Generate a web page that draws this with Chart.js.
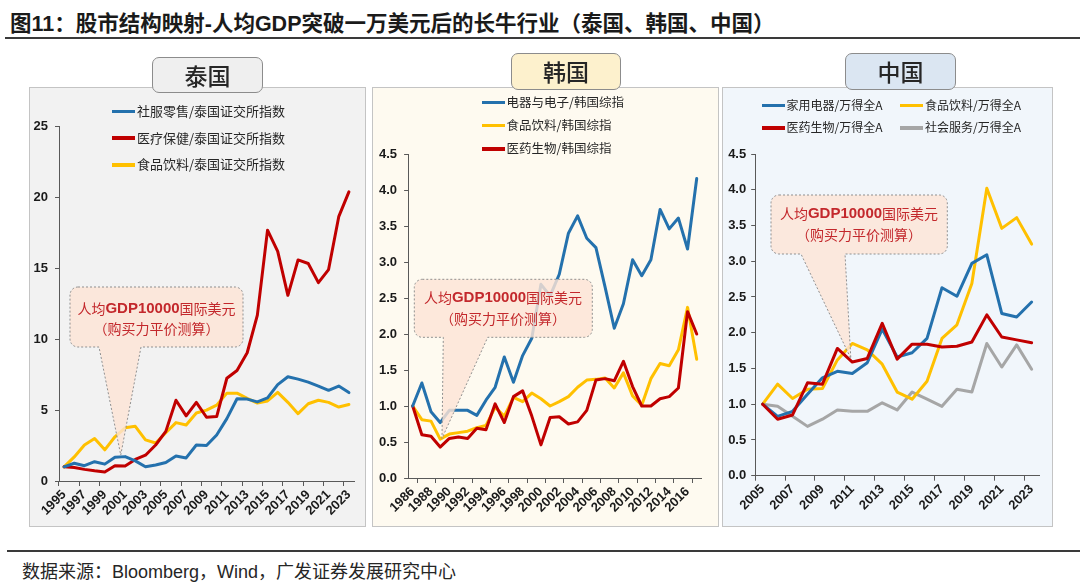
<!DOCTYPE html>
<html>
<head>
<meta charset="utf-8">
<script src="https://cdn.jsdelivr.net/npm/chart.js@4.4.1/dist/chart.umd.min.js"></script>
<style>
  body { margin: 0; background: #fff; font-family: "Liberation Sans", Arial, "Noto Sans CJK SC", sans-serif; }
  #page { position: relative; width: 1080px; height: 585px; overflow: hidden; }
  .title { position: absolute; left: 10px; top: 6px; font-size: 21.5px; font-weight: bold; color: #1a1a1a; white-space: nowrap; }
  .rule { position: absolute; left: 5px; right: 0; height: 2px; background: #3a3a3a; }
  .foot { position: absolute; left: 22px; top: 557px; font-size: 18px; color: #262626; white-space: nowrap; }
  .panel { position: absolute; top: 87px; height: 440px; border: 1px solid #c4c4c4; box-sizing: border-box; }
  canvas.c { position: absolute; top: 87px; }
  .tab { position: absolute; height: 37px; border: 1px solid #8c8c8c; border-radius: 7px; box-sizing: border-box;
         text-align: center; font-family: "Noto Sans CJK SC"; font-size: 23px; line-height: 34px; font-weight: 500; color: #262626; }
  .leg { position: absolute; white-space: nowrap; font-family: "Noto Sans CJK SC", sans-serif; color: #262626; }
  .leg i { display: inline-block; width: 23px; height: 3.5px; vertical-align: middle; margin-right: 2px; position: relative; top: -1px; }
</style>
</head>
<body>
<div id="page">
  <div class="title">图11：股市结构映射-人均GDP突破一万美元后的长牛行业（泰国、韩国、中国）</div>
  <div class="rule" style="top:37px"></div>

  <div class="panel" style="left:29px;width:337px;background:#f2f2f2"></div>
  <div class="panel" style="left:372px;width:347px;background:#fefaf0"></div>
  <div class="panel" style="left:722px;width:331px;background:#f1f6fb"></div>

  <canvas class="c" id="thai" width="336" height="440" style="left:29px"></canvas>
  <canvas class="c" id="korea" width="346" height="440" style="left:372px"></canvas>
  <canvas class="c" id="china" width="330" height="440" style="left:722px"></canvas>

  <div class="tab" style="left:152px;top:57px;width:111px;height:36px;background:#efefef">泰国</div>
  <div class="tab" style="left:511px;top:53px;width:110px;background:#fdf1cd">韩国</div>
  <div class="tab" style="left:845px;top:53px;width:111px;background:#dbe6f2">中国</div>

  <div id="legends"></div>

  <div class="rule" style="top:550px;left:7px;height:1.5px"></div>
  <div class="foot">数据来源：Bloomberg，Wind，广发证券发展研究中心</div>
</div>

<script>
// --- 数据 ---
const thaiYears = [];
for (let y = 1995; y <= 2023; y++) thaiYears.push(String(y));
const thaiRetail = [1.0, 1.25, 1.08, 1.36, 1.19, 1.68, 1.72, 1.42, 1.0, 1.13, 1.3, 1.76, 1.63, 2.54, 2.5, 3.25, 4.4, 5.8, 5.78, 5.58, 5.86, 6.8, 7.36, 7.19, 6.98, 6.7, 6.4, 6.7, 6.24];
const thaiHealth = [1.0, 0.95, 0.82, 0.72, 0.64, 1.08, 1.06, 1.52, 1.82, 2.54, 3.5, 5.7, 4.6, 5.55, 4.5, 4.55, 7.25, 7.8, 9.05, 11.7, 17.7, 16.2, 13.1, 15.6, 15.35, 14.0, 14.92, 18.65, 20.4];
const thaiFood = [1.0, 1.7, 2.54, 3.0, 2.2, 3.12, 3.75, 3.86, 2.9, 2.68, 3.4, 4.12, 3.95, 4.8, 5.0, 5.35, 6.2, 6.2, 5.83, 5.5, 5.65, 6.25, 5.55, 4.75, 5.45, 5.7, 5.55, 5.22, 5.4];
const thaiLabels = ['社服零售/泰国证交所指数', '医疗保健/泰国证交所指数', '食品饮料/泰国证交所指数'];

const koreaYears = [];
for (let y = 1986; y <= 2017; y++) koreaYears.push(String(y));
const koreaElec = [1.0, 1.32, 0.92, 0.77, 0.94, 0.94, 0.94, 0.87, 1.08, 1.26, 1.68, 1.33, 1.7, 1.94, 2.69, 2.53, 2.83, 3.4, 3.64, 3.33, 3.2, 2.65, 2.08, 2.42, 3.03, 2.81, 3.03, 3.73, 3.46, 3.61, 3.18, 4.16];
const koreaFood = [1.0, 0.81, 0.79, 0.54, 0.61, 0.63, 0.65, 0.7, 0.73, 0.98, 0.86, 1.12, 1.06, 1.18, 1.1, 1.0, 1.06, 1.13, 1.26, 1.36, 1.37, 1.39, 1.25, 1.46, 1.14, 1.01, 1.38, 1.59, 1.56, 1.78, 2.37, 1.65];
const koreaPharma = [1.0, 0.6, 0.58, 0.43, 0.55, 0.57, 0.55, 0.69, 0.67, 1.03, 0.77, 1.13, 1.21, 0.86, 0.46, 0.84, 0.85, 0.75, 0.78, 0.94, 1.36, 1.38, 1.35, 1.62, 1.27, 1.0, 1.0, 1.1, 1.13, 1.25, 2.31, 2.0];
const koreaLabels = ['电器与电子/韩国综指', '食品饮料/韩国综指', '医药生物/韩国综指'];

const chinaYears = [];
for (let y = 2005; y <= 2023; y++) chinaYears.push(String(y));
const chinaAppl = [1.0, 0.83, 0.9, 1.14, 1.37, 1.46, 1.43, 1.58, 2.05, 1.66, 1.72, 1.92, 2.63, 2.51, 2.97, 3.09, 2.27, 2.22, 2.43];
const chinaFood = [1.0, 1.28, 1.08, 1.21, 1.22, 1.62, 1.85, 1.76, 1.56, 1.17, 1.07, 1.32, 1.92, 2.11, 2.69, 4.02, 3.46, 3.61, 3.24];
const chinaPharma = [1.0, 0.79, 0.85, 1.3, 1.28, 1.78, 1.59, 1.64, 2.13, 1.63, 1.84, 1.84, 1.8, 1.81, 1.87, 2.25, 1.94, 1.9, 1.86];
const chinaService = [1.0, 0.97, 0.83, 0.69, 0.79, 0.92, 0.9, 0.9, 1.02, 0.92, 1.17, 1.07, 0.97, 1.21, 1.17, 1.85, 1.52, 1.83, 1.49];
const chinaLabels = ['家用电器/万得全A', '食品饮料/万得全A', '医药生物/万得全A', '社会服务/万得全A'];

const calloutLine1 = [['人均', false], ['GDP10000', true], ['国际美元', false]];
const calloutLine2 = '（购买力平价测算）';

const BLUE = '#2471ad', RED = '#c00000', YELLOW = '#ffc000', GRAY = '#a6a6a6';
const AXIS = '#595959';

// --- 标注框插件 ---
const calloutPlugin = {
  id: 'callout',
  afterDatasetsDraw(chart, args, o) {
    if (!o.box) return;
    const { ctx } = chart;
    const xs = chart.scales.x, ys = chart.scales.y;
    const [l, t, r, b] = o.box;
    const rad = 8;
    const tx = xs.getPixelForValue(o.tip[0]);
    const ty = ys.getPixelForValue(o.tip[1]);
    ctx.save();
    ctx.beginPath();
    ctx.moveTo(l + rad, t);
    ctx.lineTo(r - rad, t);
    ctx.arcTo(r, t, r, t + rad, rad);
    ctx.lineTo(r, b - rad);
    ctx.arcTo(r, b, r - rad, b, rad);
    ctx.lineTo(o.base[1], b);
    ctx.lineTo(tx, ty);
    ctx.lineTo(o.base[0], b);
    ctx.lineTo(l + rad, b);
    ctx.arcTo(l, b, l, b - rad, rad);
    ctx.lineTo(l, t + rad);
    ctx.arcTo(l, t, l + rad, t, rad);
    ctx.closePath();
    ctx.fillStyle = 'rgba(252,228,214,0.82)';
    ctx.fill();
    ctx.setLineDash([2, 2]);
    ctx.strokeStyle = '#8f8f8f';
    ctx.lineWidth = 1;
    ctx.stroke();
    ctx.setLineDash([]);

    // 文字
    ctx.fillStyle = '#c3282c';
    ctx.textBaseline = 'middle';
    ctx.textAlign = 'left';
    const cjk = '14px "Noto Sans CJK SC"';
    const lat = 'bold 15px "Liberation Sans", Arial';
    let w = 0;
    calloutLine1.forEach(([s, bold]) => { ctx.font = bold ? lat : cjk; w += ctx.measureText(s).width; });
    let x = o.text[0] - w / 2;
    calloutLine1.forEach(([s, bold]) => {
      ctx.font = bold ? lat : cjk;
      ctx.fillText(s, x, o.text[1]);
      x += ctx.measureText(s).width;
    });
    ctx.font = cjk;
    ctx.textAlign = 'center';
    ctx.fillText(calloutLine2, o.text[0], o.text[2]);
    ctx.restore();
  }
};

// --- 图表 ---
function makeChart(id, years, series, yOpts, geo) {
  const tickFont = { family: '"Liberation Sans", Arial', size: 13, weight: 'bold' };
  return new Chart(document.getElementById(id), {
    type: 'line',
    data: {
      labels: years,
      datasets: series.map(s => ({
        label: s.label, data: s.data, borderColor: s.color, backgroundColor: s.color,
        borderWidth: 3, pointRadius: 0, tension: 0, borderJoinStyle: 'round', borderCapStyle: 'round',
        order: s.order
      }))
    },
    options: {
      responsive: false,
      animation: false,
      events: [],
      layout: { padding: { top: geo.top, right: geo.right, bottom: 0, left: 0 } },
      plugins: {
        legend: { display: false },
        tooltip: { enabled: false },
        callout: geo.callout
      },
      scales: {
        x: {
          type: 'category',
          offset: true,
          grid: {
            offset: true, drawOnChartArea: false, drawTicks: true, tickLength: 5,
            color: c => (c.type === 'tick' && c.index % 2 === geo.parity) ? AXIS : 'rgba(0,0,0,0)'
          },
          border: { color: AXIS, width: 1 },
          ticks: {
            autoSkip: false, maxRotation: 45, minRotation: 45, padding: 1,
            color: '#1a1a1a', font: tickFont,
            callback: (v, i) => (i % 2 === 0 ? years[i] : '')
          },
          afterFit: s => { s.height = geo.xh; }
        },
        y: {
          min: 0, max: yOpts.max,
          grid: { drawOnChartArea: false, drawTicks: true, tickLength: 4, color: AXIS },
          border: { color: AXIS, width: 1 },
          ticks: {
            stepSize: yOpts.step, padding: geo.ypad, color: '#1a1a1a', font: tickFont,
            callback: v => yOpts.dec ? v.toFixed(1) : String(v)
          },
          afterFit: s => { s.width = geo.yw; }
        }
      }
    },
    plugins: [calloutPlugin]
  });
}

// 泰国 (canvas at 29,87)
makeChart('thai', thaiYears, [
  { label: thaiLabels[0], data: thaiRetail, color: BLUE, order: 1 },
  { label: thaiLabels[1], data: thaiHealth, color: RED, order: 2 },
  { label: thaiLabels[2], data: thaiFood, color: YELLOW, order: 3 }
], { max: 25, step: 5, dec: false }, {
  top: 39.7, right: 11, xh: 46, yw: 30, ypad: 7, parity: 0,
  callout: { box: [41, 200, 214, 260], base: [70, 112], tip: [5.57, 1.83], text: [127.5, 221.5, 241.5] }
});

// 韩国 (canvas at 372,87)
makeChart('korea', koreaYears, [
  { label: koreaLabels[0], data: koreaElec, color: BLUE, order: 1 },
  { label: koreaLabels[1], data: koreaFood, color: YELLOW, order: 3 },
  { label: koreaLabels[2], data: koreaPharma, color: RED, order: 2 }
], { max: 4.5, step: 0.5, dec: true }, {
  top: 67, right: 16.7, xh: 49, yw: 36.1, ypad: 7, parity: 1,
  callout: { box: [42.3, 192.3, 220.3, 250.3], base: [71.3, 115.7], tip: [3.2, 0.55], text: [131, 210.5, 231.5] }
});

// 中国 (canvas at 722,87)
makeChart('china', chinaYears, [
  { label: chinaLabels[0], data: chinaAppl, color: BLUE, order: 2 },
  { label: chinaLabels[1], data: chinaFood, color: YELLOW, order: 3 },
  { label: chinaLabels[2], data: chinaPharma, color: RED, order: 1 },
  { label: chinaLabels[3], data: chinaService, color: GRAY, order: 4 }
], { max: 4.5, step: 0.5, dec: true }, {
  top: 67, right: 12.9, xh: 51.3, yw: 33.2, ypad: 5, parity: 0,
  callout: { box: [49, 108, 225.3, 167], base: [79, 123], tip: [5.9, 1.64], text: [137, 127, 147.5] }
});

// --- 图例 ---
const legendItems = [
  { text: thaiLabels[0], color: BLUE, x: 112, y: 111, size: 13 },
  { text: thaiLabels[1], color: RED, x: 112, y: 137.7, size: 13 },
  { text: thaiLabels[2], color: YELLOW, x: 112, y: 164.3, size: 13 },
  { text: koreaLabels[0], color: BLUE, x: 481.5, y: 101.7, size: 12.5 },
  { text: koreaLabels[1], color: YELLOW, x: 481.5, y: 125, size: 12.5 },
  { text: koreaLabels[2], color: RED, x: 481.5, y: 148.3, size: 12.5 },
  { text: chinaLabels[0], color: BLUE, x: 761.5, y: 105, size: 12 },
  { text: chinaLabels[1], color: YELLOW, x: 900, y: 105, size: 12 },
  { text: chinaLabels[2], color: RED, x: 761.5, y: 127.3, size: 12 },
  { text: chinaLabels[3], color: GRAY, x: 900, y: 127.3, size: 12 }
];
const legendBox = document.getElementById('legends');
legendItems.forEach(it => {
  const d = document.createElement('div');
  d.className = 'leg';
  d.style.left = it.x + 'px';
  d.style.top = (it.y - 10) + 'px';
  d.style.fontSize = it.size + 'px';
  d.style.lineHeight = '20px';
  d.innerHTML = `<i style="background:${it.color}"></i>${it.text}`;
  legendBox.appendChild(d);
});
</script>
</body>
</html>
